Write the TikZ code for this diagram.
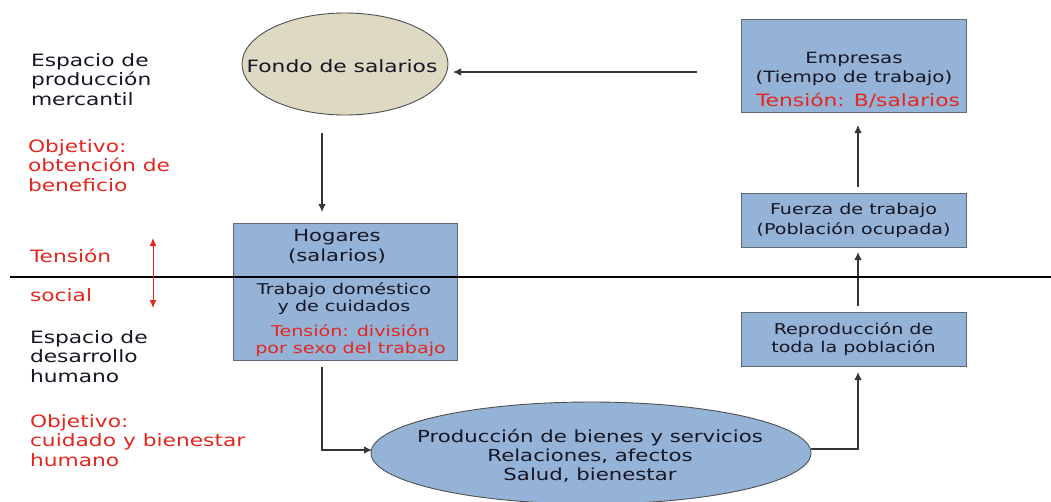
\documentclass[tikz,border=0pt]{standalone}
\usepackage{fontspec}
\setmainfont[FakeStretch=1.28]{DejaVu Sans}
\usetikzlibrary{arrows.meta,calc,shapes.geometric}
\definecolor{boxblue}{RGB}{149,179,215}
\definecolor{boxedge}{RGB}{95,105,118}
\definecolor{beige}{RGB}{221,217,195}
\definecolor{ovaledge}{RGB}{80,80,80}
\definecolor{tred}{RGB}{228,38,30}
\definecolor{txt}{RGB}{22,22,36}
\definecolor{arrowgray}{RGB}{55,55,55}
\begin{document}
\begin{tikzpicture}[x=1pt,y=-1pt,
  every node/.style={inner sep=0pt,outer sep=0pt,text=txt},
  bluebox/.style={draw=boxedge,fill=boxblue,line width=0.9pt,minimum width=225pt},
  ovalnode/.style={ellipse,draw=ovaledge,line width=0.9pt},
  arr/.style={draw=arrowgray,line width=1.1pt,-{Latex[length=8pt,width=7.5pt]}},
  bigf/.style={font=\fontsize{17}{19.5}\selectfont},
  smallf/.style={font=\fontsize{14.9}{18}\selectfont},
  redtxt/.style={text=tred},
  lefttxt/.style={bigf,align=left,anchor=base west}]
\useasboundingbox (0,0) rectangle (1051,501);

% ellipses
\node[ovalnode,fill=beige,minimum width=206pt,minimum height=102pt] (fondo) at (345,64) {};
\node[bigf] (fondoT) at (342,66) {Fondo de salarios};
\node[ovalnode,fill=boxblue,minimum width=440pt,minimum height=102pt] (prod) at (591,453) {};
\node[font=\fontsize{16.6}{19}\selectfont,align=center] (prodT) at (590,456) {Producción de bienes y servicios\\Relaciones, afectos\\Salud, bienestar};

% boxes
\node[bluebox,minimum height=93pt] (empresas) at (853.5,65.5) {};
\node[font=\fontsize{15.5}{19}\selectfont,align=center] (empT) at (854,68.5) {Empresas\\(Tiempo de trabajo)};
\node[bigf,redtxt] (empR) at (858,100) {Tensión: B/salarios};
\node[bluebox,minimum height=54pt,font=\fontsize{14.9}{20}\selectfont,align=center] (fuerza) at (853.5,220) {Fuerza de trabajo\\(Población ocupada)};
\node[bluebox,minimum height=54pt,smallf,align=center] (repro) at (853.5,339) {Reproducción de\\toda la población};
\node[bluebox,minimum width=224pt,minimum height=137pt] (hogares) at (345,291.5) {};
\node[font=\fontsize{16.5}{20}\selectfont,align=center] (hogT) at (337,247) {Hogares\\(salarios)};
\node[font=\fontsize{14.9}{17.5}\selectfont,align=center] (hogM) at (344,298.5) {Trabajo doméstico\\y de cuidados};
\node[font=\fontsize{14.9}{17.5}\selectfont,align=center,redtxt] (hogR) at (350.5,340.5) {Tensión: división\\por sexo del trabajo};

% left texts (base anchor = last line's baseline)
\node[lefttxt] (esp1) at (31,105) {Espacio de\\producción\\mercantil};
\node[lefttxt,redtxt] (obj1) at (28,191) {Objetivo:\\obtención de\\beneficio};
\node[bigf,redtxt,anchor=base west] (tens) at (30,262) {Tensión};
\node[bigf,redtxt,anchor=base west] (soc) at (30,301) {social};
\node[lefttxt] (esp2) at (30,382) {Espacio de\\desarrollo\\humano};
\node[lefttxt,redtxt] (obj2) at (30,466) {Objetivo:\\cuidado y bienestar\\humano};

% connectors
\draw[arr] ($(empresas.west)+(-44,6.5)$) -- ($(fondo.east)+(5,8)$);
\draw[arr] ($(fondo.south)+(-23,18)$) -- ($(hogares.north)+(-23,-11)$);
\draw[arr] ($(hogares.south)+(-23,7)$) |- ($(prod.west)+(1,-3)$);
\draw[arr] ($(prod.east)+(0,-4)$) -| ($(repro.south)+(4.5,6)$);
\draw[arr] ($(repro.north)+(4.5,-6)$) -- ($(fuerza.south)+(4.5,5)$);
\draw[arr] ($(fuerza.north)+(4.5,-6)$) -- ($(empresas.south)+(4.5,13)$);

% dividing line
\coordinate (hl) at (10,277);
\coordinate (hr) at (1051,277);
\draw[line width=2pt,black] (hl) -- (hr);

% red double arrow
\coordinate (ra) at (153,238);
\coordinate (rb) at (153,308);
\draw[tred,line width=1pt,{Latex[length=8pt,width=7pt]}-{Latex[length=8pt,width=7pt]}] (ra) -- (rb);
\end{tikzpicture}
\end{document}
